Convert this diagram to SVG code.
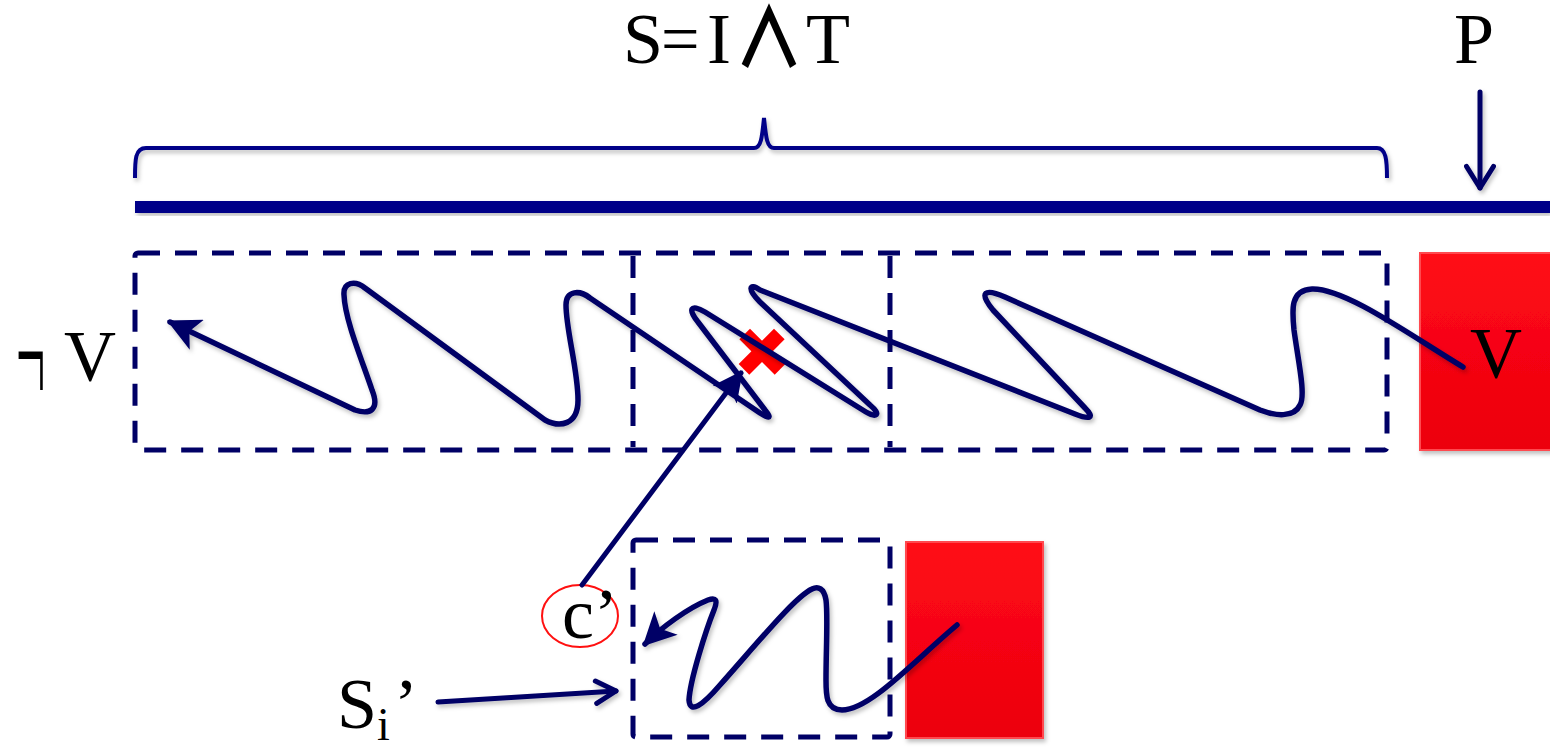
<svg xmlns="http://www.w3.org/2000/svg" width="1550" height="749" viewBox="0 0 1550 749">
  <style>
    .lbl { font-family: "Liberation Serif", "Times New Roman", serif; fill: #000; }
    .dash { fill: none; stroke: #000066; stroke-width: 5; stroke-dasharray: 22 15; }
    .wave { fill: none; stroke: #000066; stroke-width: 5.5; stroke-linecap: round; stroke-linejoin: round; }
    .line { fill: none; stroke: #000066; stroke-width: 5; stroke-linecap: round; }
  </style>
  <defs>
    <filter id="shadow" x="-10%" y="-10%" width="130%" height="130%">
      <feDropShadow dx="2" dy="3" stdDeviation="2" flood-color="#000" flood-opacity="0.25"/>
    </filter>
    <linearGradient id="redFill" x1="0" y1="0" x2="0" y2="1">
      <stop offset="0" stop-color="#ff0a16"/>
      <stop offset="1" stop-color="#ec000e"/>
    </linearGradient>
    <marker id="tri" viewBox="0 0 10 10" refX="9" refY="5" markerWidth="6" markerHeight="6" orient="auto" markerUnits="strokeWidth">
      <path d="M0,0 L10,5 L0,10 L2.5,5 Z" fill="#000066"/>
    </marker>
    <marker id="chev" viewBox="0 0 12 12" refX="10" refY="6" markerWidth="6" markerHeight="6" orient="auto" markerUnits="strokeWidth">
      <path d="M2,1.5 L10,6 L2,10.5" fill="none" stroke="#000066" stroke-width="2" stroke-linecap="round" stroke-linejoin="round"/>
    </marker>
    <marker id="chevBig" viewBox="0 0 12 12" refX="10" refY="6" markerWidth="6.5" markerHeight="6.5" orient="auto" markerUnits="strokeWidth">
      <path d="M2,1 L10,6 L2,11" fill="none" stroke="#000066" stroke-width="1.8" stroke-linecap="round" stroke-linejoin="round"/>
    </marker>
  </defs>

  <rect width="1550" height="749" fill="#fff"/>

  <!-- formula and position labels -->
  <g id="title" class="lbl" font-size="72">
    <text x="623" y="63">S</text>
    <text x="661" y="63" transform="matrix(0.95,0,0,1,33,0)">=</text>
    <text x="707" y="63">I</text>
    <text x="0" y="0" font-size="70" font-weight="700" text-anchor="middle" font-family="'Noto Sans CJK JP', 'DejaVu Sans', sans-serif" transform="translate(769,67) scale(1,1.17)">∧</text>
    <text x="806" y="63">T</text>
  </g>
  <g id="p-label"><text class="lbl" x="1454" y="63" font-size="72">P</text></g>

  <!-- brace over the path S -->
  <g id="brace" filter="url(#shadow)">
    <path d="M135,178 C135,160 135,148 146,148 L754,148 C761,148 762,138 764,118 C766,138 767,148 774,148 L1377,148 C1386,148 1387,160 1387,178" fill="none" stroke="#000088" stroke-width="4"/>
  </g>

  <!-- execution path bar -->
  <g id="bar" filter="url(#shadow)">
    <rect x="135" y="201" width="1415" height="12" fill="#000088"/>
  </g>

  <!-- upper trace windows: outer frame plus the two inner dividers -->
  <g id="trace-windows">
    <rect class="dash" x="135" y="253" width="1252" height="197" rx="3"/>
    <path class="dash" d="M633,256 L633,447 M890,256 L890,447"/>
  </g>

  <!-- violation states -->
  <g id="violation-top" filter="url(#shadow)">
    <rect x="1420" y="253" width="140" height="197" fill="url(#redFill)" stroke="#ff4a50" stroke-width="2"/>
  </g>
  <g id="violation-bottom" filter="url(#shadow)">
    <rect x="906" y="542" width="137" height="196" fill="url(#redFill)" stroke="#ff4a50" stroke-width="2"/>
  </g>

  <!-- lower trace window -->
  <g id="sub-window">
    <rect class="dash" x="633" y="540" width="257" height="197" rx="3"/>
  </g>

  <!-- labels -->
  <g id="not-v" class="lbl">
    <text x="0" y="141" font-size="52" transform="matrix(1,0,0,2.87,16,0)">¬</text>
    <text x="64" y="380" font-size="72">V</text>
  </g>
  <g id="v-label"><text class="lbl" x="1470" y="377" font-size="72">V</text></g>
  <g id="c-prime">
    <ellipse cx="580" cy="616" rx="38" ry="31" fill="none" stroke="#ff1010" stroke-width="2"/>
    <text class="lbl" x="562" y="638" font-size="72">c’</text>
  </g>
  <g id="si-prime" class="lbl">
    <text x="337" y="728" font-size="72">S</text>
    <text x="377" y="740" font-size="46">i</text>
    <text x="394" y="728" font-size="72">’</text>
  </g>

  <!-- conflict marker -->
  <g id="conflict" fill="#ff0000">
    <rect x="737" y="344" width="50" height="15" transform="rotate(45 762 352)"/>
    <rect x="737" y="344" width="50" height="15" transform="rotate(-45 762 352)"/>
  </g>

  <!-- connectors -->
  <g id="connectors">
    <g filter="url(#shadow)">
      <path class="wave" marker-end="url(#tri)" d="M1463,367 C1410,335 1345,288 1312,289 C1290,290 1292,310 1294,330 C1298,360 1306,395 1300,405 C1294,418 1275,416 1260,410 L1005,297 C985,288 978,292 993,310 L1085,408 C1095,418 1090,420 1075,414 L760,290 C748,282 748,290 760,302 L870,405 C882,415 876,418 866,412 L705,312 C690,303 688,310 698,322 L765,410 C773,420 768,418 760,413 L590,298 C580,290 566,290 566,305 C566,330 578,370 578,400 C578,425 560,428 545,420 L365,288 C355,280 343,282 344,295 C345,320 362,360 372,390 C380,410 370,415 355,410 L170,322"/>
      <path class="wave" marker-end="url(#tri)" d="M957,625 C915,660 870,710 842,710 C826,710 826,695 826,680 C826,650 828,615 826,600 C824,588 818,586 812,589 C795,597 760,640 720,685 C702,706 690,714 689,700 C690,680 706,630 714,610 C718,600 716,597 708,600 C688,608 662,627 645,644"/>
      <path class="line" stroke-width="7" marker-end="url(#chevBig)" d="M1480,92 L1480,188"/>
      <path class="line" marker-end="url(#chev)" d="M438,702 L616,691"/>
    </g>
    <path class="line" stroke-width="4" marker-end="url(#tri)" d="M582,585 L741,373"/>
  </g>
</svg>
